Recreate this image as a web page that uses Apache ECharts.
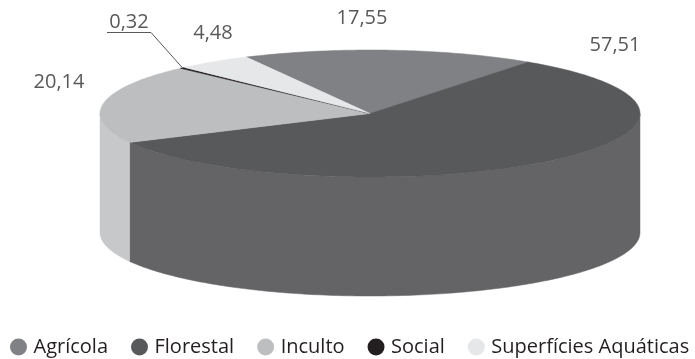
<!DOCTYPE html>
<html>
<head>
<meta charset="utf-8">
<script src="https://cdn.jsdelivr.net/npm/echarts@6/dist/echarts.min.js"></script>
<style>
  html, body { margin: 0; padding: 0; background: #fff; }
  #chart { width: 695px; height: 359px; }
</style>
</head>
<body>
<div id="chart"></div>
<script>
  // data
  const categories = ['Agrícola', 'Florestal', 'Inculto', 'Social', 'Superfícies Aquáticas'];
  const values = [17.55, 57.51, 20.14, 0.32, 4.48];

  // look
  const topColors = ['#808184', '#58595b', '#bcbec0', '#231f20', '#e6e7e8'];
  const sideColors = ['#8a8b8e', '#646466', '#c7c8ca', '#2e2a2b', '#ececed'];
  // where each value label sits, relative to the disc centre (px)
  const labelOffsets = [[-8, -95], [245, -68], [-311, -31], [-241, -91], [-157, -80]];
  const leaderLabels = [3]; // small slice gets an underline + leader line

  const pie = { cx: 370, cy: 113.5, rx: 270, ry: 63.5, depth: 119 };
  const START_ANGLE = -27.3; // clockwise from 12 o'clock

  function point(deg, dy) {
    const t = deg * Math.PI / 180;
    return [pie.cx + pie.rx * Math.sin(t), pie.cy - pie.ry * Math.cos(t) + dy];
  }

  function arc(a, b, dy) {
    const n = Math.max(2, Math.ceil(b - a));
    const pts = [];
    for (let k = 0; k <= n; k++) {
      pts.push(point(a + (b - a) * k / n, dy));
    }
    return pts;
  }

  function fmt(v) {
    return v.toFixed(2).replace('.', ',');
  }

  function makeSlice(i) {
    return {
      name: categories[i],
      type: 'custom',
      coordinateSystem: 'none',
      silent: true,
      animation: false,
      itemStyle: { color: topColors[i] },
      data: [values[i]],
      renderItem: function (params, api) {
        const total = values.reduce((s, v) => s + v, 0);
        const before = values.slice(0, i).reduce((s, v) => s + v, 0);
        const a0 = START_ANGLE + before / total * 360;
        const a1 = a0 + api.value(0) / total * 360;
        const children = [];

        // outer wall, only the front half of the disc shows
        const w0 = Math.max(a0, 90), w1 = Math.min(a1, 270);
        if (w1 > w0) {
          const wall = arc(w0, w1, 0).concat(arc(w0, w1, pie.depth).reverse());
          children.push({
            type: 'polygon',
            shape: { points: wall },
            style: { fill: sideColors[i], stroke: sideColors[i], lineWidth: 0.5 }
          });
        }

        // top face
        children.push({
          type: 'polygon',
          shape: { points: [[pie.cx, pie.cy]].concat(arc(a0, a1, 0)) },
          style: { fill: topColors[i], stroke: topColors[i], lineWidth: 0.5 }
        });

        // value label
        const lx = pie.cx + labelOffsets[i][0];
        const ly = pie.cy + labelOffsets[i][1];
        children.push({
          type: 'text',
          style: {
            x: lx, y: ly,
            text: fmt(api.value(0)),
            fill: '#58595b',
            font: '20px "Open Sans"',
            align: 'center',
            verticalAlign: 'middle'
          }
        });

        if (leaderLabels.indexOf(i) >= 0) {
          const edge = point((a0 + a1) / 2, 0);
          children.push({
            type: 'polyline',
            shape: { points: [[lx - 22, ly + 10], [lx + 22, ly + 10], edge] },
            style: { stroke: '#58595b', lineWidth: 1, fill: null }
          });
        }

        return { type: 'group', children: children };
      }
    };
  }

  const chart = echarts.init(document.getElementById('chart'));
  chart.setOption({
    animation: false,
    color: topColors,
    legend: {
      data: categories,
      left: 5,
      top: 332,
      width: 690,
      icon: 'circle',
      itemWidth: 20,
      itemHeight: 17,
      itemGap: 23,
      selectedMode: false,
      textStyle: { fontFamily: 'Open Sans', fontSize: 20, color: '#231f20' }
    },
    series: categories.map((c, i) => makeSlice(i))
  });
</script>
</body>
</html>
